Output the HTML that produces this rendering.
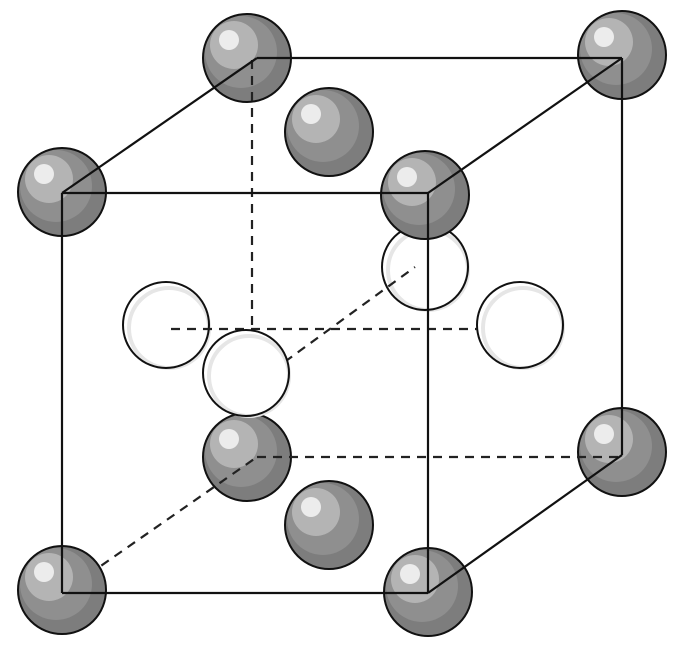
<!DOCTYPE html>
<html><head><style>html,body{margin:0;padding:0;background:#fff}svg{display:block}</style></head>
<body>
<svg width="678" height="654" viewBox="0 0 678 654" xmlns="http://www.w3.org/2000/svg">
<defs>
<g id="g">
<circle r="44" fill="#7d7d7d"/>
<circle cx="-6" cy="-6" r="36" fill="#8f8f8f"/>
<circle cx="-13" cy="-13" r="24" fill="#b4b4b4"/>
<circle cx="-18" cy="-18" r="10" fill="#ececec"/>
<circle r="44" fill="none" stroke="#111" stroke-width="2"/>
</g>
<g id="w">
<circle r="43" fill="#fff"/>
<circle cx="3" cy="3" r="40" fill="none" stroke="#e6e6e6" stroke-width="4"/>
<circle r="43" fill="none" stroke="#111" stroke-width="2"/>
</g>
</defs>
<use href="#g" x="247" y="58"/>
<use href="#g" x="622" y="55"/>
<use href="#g" x="329" y="132"/>
<use href="#w" x="166" y="325"/>
<use href="#w" x="520" y="325"/>
<use href="#w" x="425" y="267"/>
<use href="#g" x="247" y="457"/>
<use href="#g" x="622" y="452"/>
<g stroke="#222" stroke-width="2.2" stroke-dasharray="9,7" fill="none">
<line x1="252" y1="60" x2="252" y2="329"/>
<line x1="171" y1="329" x2="477" y2="329"/>
<line x1="257" y1="457" x2="622" y2="457"/>
<line x1="62" y1="593" x2="257" y2="457"/>
<line x1="246" y1="390" x2="415" y2="267"/>
</g>
<use href="#w" x="246" y="373"/>
<use href="#g" x="329" y="525"/>
<use href="#g" x="425" y="195"/>
<use href="#g" x="62" y="192"/>
<use href="#g" x="62" y="590"/>
<use href="#g" x="428" y="592"/>
<g stroke="#111" stroke-width="2.2" fill="none">
<line x1="62" y1="193" x2="428" y2="193"/>
<line x1="62" y1="193" x2="62" y2="593"/>
<line x1="62" y1="593" x2="428" y2="593"/>
<line x1="428" y1="193" x2="428" y2="593"/>
<line x1="62" y1="193" x2="257" y2="58"/>
<line x1="257" y1="58" x2="622" y2="58"/>
<line x1="428" y1="193" x2="622" y2="58"/>
<line x1="622" y1="58" x2="622" y2="455"/>
<line x1="428" y1="593" x2="622" y2="455"/>
</g>
</svg>
</body></html>
